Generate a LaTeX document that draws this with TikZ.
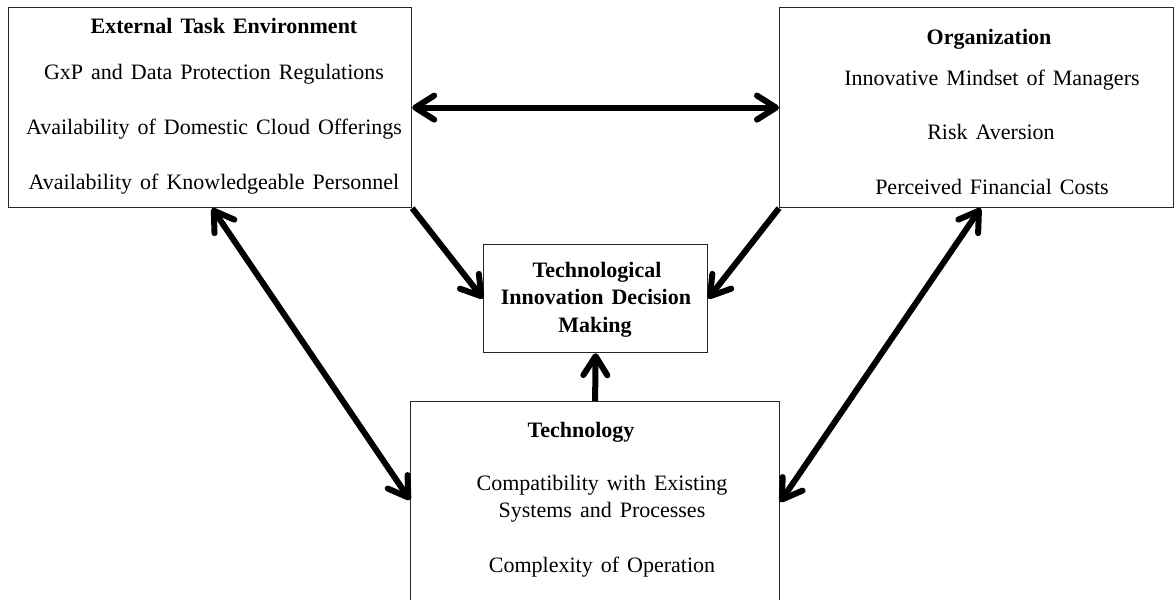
\documentclass[tikz,border=0pt]{standalone}
\usepackage{fontspec}
\setmainfont{Liberation Serif}
\usetikzlibrary{arrows.meta}
\newcommand{\myfnt}{\fontsize{22}{26}\selectfont\spaceskip 8pt plus 1pt\relax}
\newcommand{\mybfnt}{\fontsize{22}{26}\selectfont\bfseries\spaceskip 8pt plus 1pt\relax}
\begin{document}
\begin{tikzpicture}[x=1pt,y=-1pt,
  box/.style={draw=black!85, line width=1.2pt, rectangle, inner sep=0pt, anchor=north west},
  txt/.style={anchor=base, inner sep=0pt, font=\myfnt},
  btxt/.style={anchor=base, inner sep=0pt, font=\mybfnt},
  conn/.style={line width=6pt, >={Straight Barb[length=19pt,width=24pt,round]}}]
\useasboundingbox (0,0) rectangle (1176,600);
\clip (0,0) rectangle (1176,600);
\fill[white] (0,0) rectangle (1176,600);

% boxes
\node[box, minimum width=403pt, minimum height=200pt] (ext) at (8,7) {};
\node[box, minimum width=394pt, minimum height=200pt] (org) at (779,7) {};
\node[box, minimum width=224pt, minimum height=108pt] (dm) at (483,244) {};
\node[box, minimum width=369pt, minimum height=260pt] (tech) at (410,401) {};

% External Task Environment
\node[btxt] (e0) at (224,33) {External Task Environment};
\node[txt] (e1) at (214,79) {GxP and Data Protection Regulations};
\node[txt] (e2) at (214,134) {Availability of Domestic Cloud Offerings};
\node[txt] (e3) at (214,189) {Availability of Knowledgeable Personnel};

% Organization
\node[btxt] (o0) at (989,44) {Organization};
\node[txt] (o1) at (992,85) {Innovative Mindset of Managers};
\node[txt] (o2) at (991,139) {Risk Aversion};
\node[txt] (o3) at (992,194) {Perceived Financial Costs};

% Decision making
\node[btxt] (d0) at (597,277) {Technological};
\node[btxt] (d1) at (596,304) {Innovation Decision};
\node[btxt] (d2) at (595,332) {Making};

% Technology
\node[btxt] (t0) at (581,437) {Technology};
\node[txt] (t1) at (602,490) {Compatibility with Existing};
\node[txt] (t2) at (602,517) {Systems and Processes};
\node[txt] (t3) at (602,572) {Complexity of Operation};

% connectors
\draw[conn,<->] (ext.east) -- (org.west);
\draw[conn,->] (ext.south east) -- (dm.west);
\draw[conn,->] (org.south west) -- (dm.east);
\draw[conn,->] (tech.north) -- (dm.south);
\draw[conn,<->] ([xshift=2pt]ext.south) -- ([yshift=-99pt]tech.north west);
\draw[conn,<->] ([xshift=4pt]org.south) -- ([yshift=-101pt]tech.north east);
\end{tikzpicture}
\end{document}
